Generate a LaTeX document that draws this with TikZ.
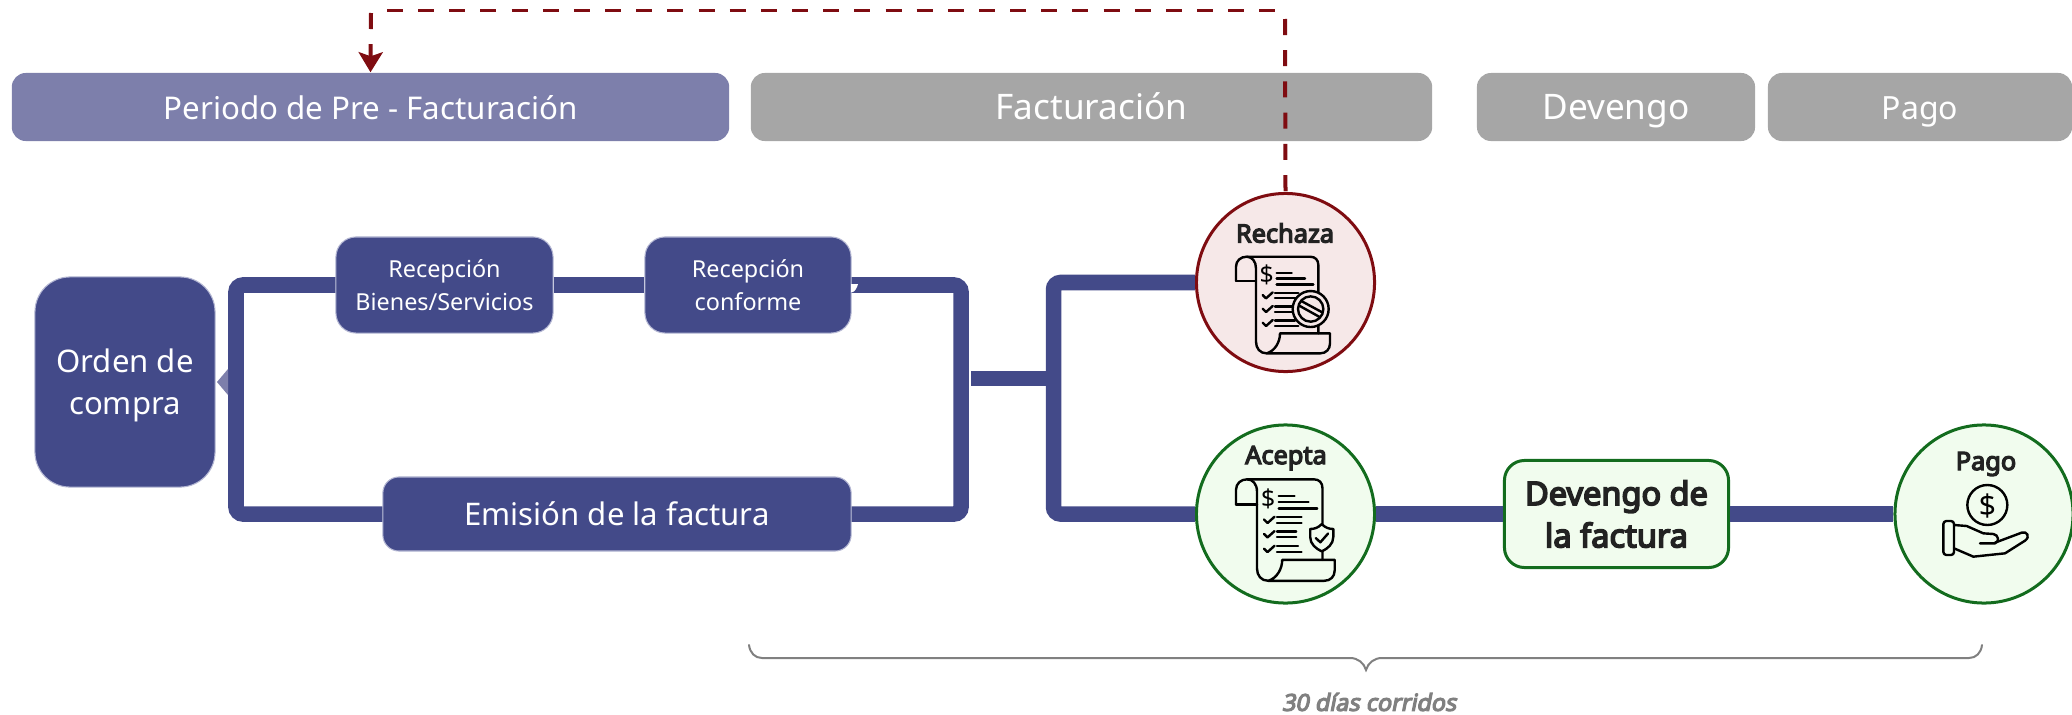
\documentclass[tikz,border=0pt]{standalone}
\usepackage{fontspec}
\setmainfont{Noto Sans}[BoldFont={Noto Sans},BoldFeatures={FakeBold=5},BoldItalicFont={Noto Sans},BoldItalicFeatures={FakeBold=5,FakeSlant=0.2}]
\usetikzlibrary{arrows.meta}
\definecolor{azul}{HTML}{434A89}
\definecolor{azulclaro}{HTML}{7D7FAB}
\definecolor{borde}{HTML}{B4B7D3}
\definecolor{gris}{HTML}{A6A6A6}
\definecolor{rojo}{HTML}{7F0C11}
\definecolor{rojofondo}{HTML}{F6E8E8}
\definecolor{verde}{HTML}{136C1E}
\definecolor{verdefondo}{HTML}{F1FCEE}
\definecolor{tinta}{HTML}{222222}
\definecolor{llave}{HTML}{808080}
\newcommand{\rollobody}{
    \draw[icono] (0,72) -- (0,30) .. controls (0,12) and (14,0) .. (32,0) -- (222,0)
        .. controls (238,0) and (247,10) .. (247,25) -- (247,230);
    \draw[icono] (0,72) -- (60,72);
    \draw[icono] (32,0) .. controls (48,0) and (60,14) .. (60,35) -- (60,255)
        .. controls (60,275) and (72,290) .. (92,290) -- (252,290)
        .. controls (270,290) and (282,278) .. (282,260) -- (282,230) -- (132,230)
        .. controls (132,255) and (118,282) .. (92,290);
    \draw[icono] (122,48) -- (167,48);
    \draw[icono] (122,65) -- (207,65);
    \draw[icono] (122,83) -- (232,83);
    \foreach \y/\a/\b in {115/187/187, 156/172/172, 198/177/187} {
        \draw[icono] (80,\y) -- (90,\y+10) -- (110,\y-8);
        \draw[icono] (117,\y-7) -- (\a,\y-7);
        \draw[icono] (117,\y+9) -- (\b,\y+9);
    }
}
\begin{document}
\begin{tikzpicture}[x=0.01cm,y=-0.01cm,
    cabecera/.style = {rectangle, rounded corners=0.14cm, inner sep=0pt, text=white, minimum height=0.68cm, text height=8.2pt, text depth=1pt},
    caja/.style = {rectangle, fill=azul, draw=borde, line width=0.3pt, text=white, inner sep=0pt, align=center},
    circulo/.style = {circle, inner sep=0pt, minimum size=1.78cm, line width=0.03cm},
    flujo/.style = {azul, line width=0.155cm},
    icono/.style = {black, line width=0.024cm, line cap=round, line join=round},
    etiqueta/.style = {text=tinta, inner sep=0pt, font=\fontsize{7.2}{9}\selectfont\bfseries},
    rechazo/.style = {rojo, line width=0.04cm, dash pattern=on 0.16cm off 0.152cm}]
    \useasboundingbox (0,0) rectangle (2072,715);

    % Cabeceras
    \node[cabecera, fill=azulclaro, minimum width=7.17cm, font=\fontsize{8.9}{10}\selectfont] (periodo) at (370.5,107) {Periodo de Pre - Facturación};
    \node[cabecera, fill=gris, minimum width=6.81cm, font=\fontsize{10}{11}\selectfont] (facturacion) at (1091.5,107) {Facturación};
    \node[cabecera, fill=gris, minimum width=2.78cm, font=\fontsize{10}{11}\selectfont] (devengo) at (1616,107) {Devengo};
    \node[cabecera, fill=gris, minimum width=3.04cm, font=\fontsize{9.1}{10}\selectfont] (pago) at (1920,107) {Pago};

    % Cajas
    \node[caja, rounded corners=0.35cm, minimum width=1.8cm, minimum height=2.1cm, font=\fontsize{8.85}{11.9}\selectfont] (orden) at (125,382) {\rule{0pt}{9.5pt}Orden de\\compra\rule[-3.2pt]{0pt}{0pt}};
    \node[caja, rounded corners=0.2cm, minimum width=2.17cm, minimum height=0.96cm, font=\fontsize{6.65}{9.5}\selectfont] (bienes) at (444.5,285) {Recepción\\Bienes/Servicios};
    \node[caja, rounded corners=0.2cm, minimum width=2.06cm, minimum height=0.96cm, font=\fontsize{6.65}{9.5}\selectfont] (conforme) at (748,285) {Recepción\\conforme};
    \node[caja, rounded corners=0.16cm, minimum width=4.68cm, minimum height=0.74cm, font=\fontsize{8.85}{11}\selectfont] (emision) at (617,514) {Emisión de la factura};

    % Circulos y devengo
    \node[circulo, draw=rojo, fill=rojofondo] (rechaza) at (1285.5,282.5) {};
    \node[circulo, draw=verde, fill=verdefondo] (acepta) at (1285.5,514) {};
    \node[circulo, draw=verde, fill=verdefondo] (pagado) at (1984,514) {};
    \node[rectangle, rounded corners=0.2cm, draw=verde, fill=verdefondo, line width=0.03cm, minimum width=2.24cm, minimum height=1.07cm,
        text=tinta, inner sep=0pt, align=center, font=\fontsize{9.25}{12}\selectfont\bfseries] (factura) at (1616.5,514) {Devengo de\\la factura};
    \node[etiqueta] (txtrechaza) at (1285,233) {Rechaza};
    \node[etiqueta] (txtacepta) at (1286,458) {Acepta};
    \node[etiqueta] (txtpago) at (1986,464) {Pago};

    % Conexiones
    \coordinate (bucleizq) at (236,400);
    \coordinate (bucleder) at (961,400);
    \coordinate (medioizq) at (971,378.5);
    \coordinate (medioder) at (1053.5,378.5);
    \draw[flujo, rounded corners=0.07cm] (bienes.west) -| (bucleizq) |- (emision.west);
    \draw[flujo, rounded corners=0.07cm] (conforme.east) -| (bucleder) |- (emision.east);
    \draw[flujo] (bienes.east) -- (conforme.west);
    \draw[flujo] (medioizq) -- (medioder);
    \draw[flujo, rounded corners=0.07cm] (rechaza.west) -| (medioder) |- (acepta.west);
    \draw[flujo] (acepta.east) -- (factura.west);
    \draw[flujo] (factura.east) -- (pagado.west);

    % Puntas sueltas
    \fill[azulclaro] (217,382) -- (228,369) -- (228,395) -- cycle;
    \fill[white] (851,284) -- (858,284) .. controls (857,288) and (855,291) .. (853,292) -- (851,292) -- cycle;

    % Rechazo
    \coordinate (rojoder) at (1285,19);
    \coordinate (rojoarr) at (1275,10.5);
    \coordinate (rojoizq) at (387,10.5);
    \coordinate (rojobaj) at (371,13);
    \draw[rechazo] (rojoder) -- (rechaza.north);
    \draw[rojo, line width=0.025cm, dash pattern=on 0.16cm off 0.1514cm] (rojoizq) -- (rojoarr);
    \draw[rechazo, -{Stealth[length=0.2cm,width=0.24cm,inset=0.04cm]}] (rojobaj) -- (periodo.north);

    % Iconos
    \begin{scope}[shift={(1236,256.7)},scale=1/3]
        \rollobody
        \node[text=black, inner sep=0pt, font=\fontsize{7}{8}\selectfont] (pesoa) at (92,55) {\$};
        \draw[icono, fill=rojofondo] (224,157) circle (54);
        \draw[icono, fill=rojofondo] (224,157) circle (38);
        \draw[icono] (196,133) -- (257,166);
        \draw[icono] (190,147) -- (251,181);
    \end{scope}
    \begin{scope}[shift={(1236,479.3)},scale=1.05/3]
        \rollobody
        \node[text=black, inner sep=0pt, font=\fontsize{7}{8}\selectfont] (pesob) at (92,55) {\$};
        \draw[icono, fill=verdefondo] (245,128) .. controls (235,138) and (225,142) .. (212,142) -- (212,165)
            .. controls (212,185) and (228,198) .. (245,206) .. controls (262,198) and (278,185) .. (278,165) -- (278,142)
            .. controls (265,142) and (255,138) .. (245,128) -- cycle;
        \draw[icono] (228,168) -- (241,180) -- (263,155);
    \end{scope}
    \begin{scope}[shift={(1860,410)},scale=1/3]
        \draw[icono] (382,285) circle (60);
        \node[text=black, inner sep=0pt, font=\fontsize{8.5}{10}\selectfont] (pesoc) at (382,287) {\$};
        \draw[icono, rounded corners=0.03cm] (250,333) rectangle (282,435);
        \draw[icono] (282,345) -- (320,348) -- (370,370) -- (400,372) .. controls (415,374) and (420,395) .. (405,400) -- (360,400);
        \draw[icono] (405,398) -- (485,368) .. controls (500,362) and (512,380) .. (495,392) -- (435,430) -- (340,440) -- (282,415);
    \end{scope}

    % Llave
    \draw[llave, line width=0.02cm, line cap=round] (749,645) .. controls (750,653) and (755,658) .. (762,658) -- (1350,658)
        .. controls (1358,658) and (1364,663) .. (1366,670) .. controls (1368,663) and (1374,658) .. (1382,658) -- (1969,658)
        .. controls (1976,658) and (1981,653) .. (1982,645);
    \node[text=llave, inner sep=0pt, font=\fontsize{6.65}{8}\selectfont\bfseries\itshape] (dias) at (1369,702) {30 días corridos};
\end{tikzpicture}
\end{document}
